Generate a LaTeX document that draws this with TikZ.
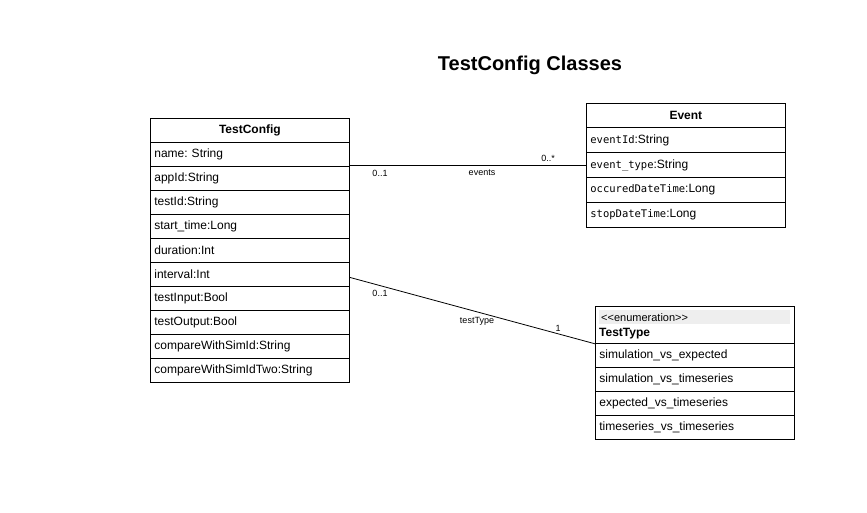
\documentclass[tikz,border=0pt]{standalone}
\usepackage{fontspec}
\setmainfont{Liberation Sans}
\newfontfamily\codefont{DejaVu Sans Mono}
\usepackage{tikz}
\usetikzlibrary{positioning}
\definecolor{enumgray}{HTML}{EEEEEE}
\frenchspacing

\tikzset{
  classrow/.style={draw, line width=0.8pt, rectangle, anchor=north west, minimum width=199pt, minimum height=24pt, text width=191pt, inner xsep=4pt, inner ysep=0pt, align=left, font=\fontsize{12}{14}\selectfont},
  classhead/.style={classrow, align=center, font=\fontsize{12}{14}\selectfont\bfseries},
  enumbar/.style={fill=enumgray, anchor=north west, minimum height=14pt, text width=187pt, inner xsep=2pt, inner ysep=0pt, align=left, font=\fontsize{11}{12}\selectfont},
  multlabel/.style={font=\fontsize{9}{10}\selectfont},
  assoc/.style={draw, line width=0.8pt}
}

\begin{document}
\begin{tikzpicture}[x=1pt, y=-1pt]
    \useasboundingbox (0,0) rectangle (867,512);

    \node[font=\fontsize{20}{24}\selectfont\bfseries] (title) at (530,65) {TestConfig Classes};

    % TestConfig
    \node[classhead] (tc) at (150,118) {TestConfig};
    \foreach \txt [count=\i] in {name: String, appId:String, testId:String, start\_time:Long, duration:Int, interval:Int, testInput:Bool, testOutput:Bool, compareWithSimId:String, compareWithSimIdTwo:String} {
      \node[classrow] (tc-\i) at (150,{142+24*(\i-1)}) {\txt};
    }

    % Event
    \node[classhead] (ev) at (586,103) {Event};
    \foreach \attr/\typ [count=\i] in {eventId/String, event\_type/String, occuredDateTime/Long, stopDateTime/Long} {
      \node[classrow, minimum height=25pt] (ev-\i) at (586,{127+25*(\i-1)}) {{\codefont\fontsize{10.5}{14}\selectfont\attr}:\typ};
    }

    % TestType
    \node[classrow, minimum height=37pt] (tt) at (595,306) {};
    \node[enumbar] (tt-stereo) at (599,310) {\textless\kern0pt\textless enumeration\textgreater\kern0pt\textgreater};
    \node[anchor=base west, inner sep=0pt, font=\fontsize{12}{14}\selectfont\bfseries] (tt-name) at (599,336) {TestType};
    \foreach \txt [count=\i] in {simulation\_vs\_expected, simulation\_vs\_timeseries, expected\_vs\_timeseries, timeseries\_vs\_timeseries} {
      \node[classrow] (tt-\i) at (595,{343+24*(\i-1)}) {\txt};
    }

    % associations
    \draw[assoc] (tc-1.east |- ev-2.west) -- (ev-2.west);
    \node[multlabel] (ev-src) at (380,173) {0..1};
    \node[multlabel] (ev-lbl) at (482,173) {events};
    \node[multlabel] (ev-dst) at (548,158) {0..*};

    \draw[assoc] ([yshift=-3pt]tc-6.east) -- (tt.south west);
    \node[multlabel] (tt-src) at (380,293) {0..1};
    \node[multlabel] (tt-lbl) at (477,321) {testType};
    \node[multlabel] (tt-dst) at (558,328) {1};
\end{tikzpicture}
\end{document}
